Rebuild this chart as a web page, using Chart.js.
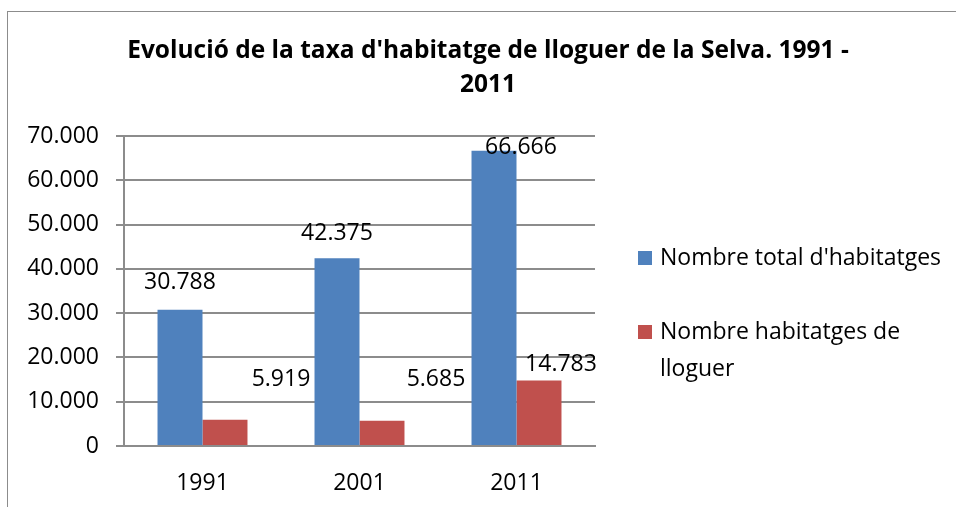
<!DOCTYPE html>
<html>
<head>
<meta charset="utf-8">
<script src="https://cdn.jsdelivr.net/npm/chart.js@4"></script>
<style>
  html, body { margin: 0; padding: 0; background: #fff; }
  #wrap { position: absolute; left: 0; top: 0; width: 956px; height: 507px; }
  #frame { position: absolute; left: 7px; top: 11px; width: 960px; height: 520px;
           border-left: 1px solid #8c8c8c; border-top: 1px solid #8c8c8c; }
  canvas { position: absolute; left: 0; top: 0; }
</style>
</head>
<body>
<div id="wrap">
  <div id="frame"></div>
  <canvas id="myChart" width="956" height="507"></canvas>
</div>
<script>
var years = ['1991', '2001', '2011'];
var totalHabitatges = [30788, 42375, 66666];
var habitatgesLloguer = [5919, 5685, 14783];
var yTicks = [0, 10000, 20000, 30000, 40000, 50000, 60000, 70000];
var titleLines = ["Evolució de la taxa d'habitatge de lloguer de la Selva. 1991 -", '2011'];

var FONT = '"Open Sans", sans-serif';

function fmt(v) {
    // thousands with a dot, like the original
    return v.toString().replace(/\B(?=(\d{3})+(?!\d))/g, '.');
}

// title centred over the whole frame, not only the plot
var titlePlugin = {
    id: 'frameTitle',
    afterDraw: function (chart, args, opts) {
        var ctx = chart.ctx;
        ctx.save();
        ctx.font = 'bold 24.5px ' + FONT;
        ctx.fillStyle = '#000';
        ctx.textAlign = 'center';
        ctx.textBaseline = 'middle';
        titleLines.forEach(function (line, i) {
            ctx.fillText(line, opts.x, opts.y + i * 34);
        });
        ctx.restore();
    }
};

// labels were moved by hand in the original, so each one has its own offset
var labelPlugin = {
    id: 'barLabels',
    afterDatasetsDraw: function (chart, args, opts) {
        var ctx = chart.ctx;
        ctx.save();
        ctx.font = '23px ' + FONT;
        ctx.fillStyle = '#000';
        ctx.textAlign = 'center';
        ctx.textBaseline = 'middle';
        chart.data.datasets.forEach(function (ds, i) {
            var meta = chart.getDatasetMeta(i);
            meta.data.forEach(function (bar, j) {
                var off = opts.offsets[i][j];
                ctx.fillText(fmt(ds.data[j]), bar.x + off[0], bar.y - off[1]);
            });
        });
        ctx.restore();
    }
};

var legendPlugin = {
    id: 'sideLegend',
    afterDraw: function (chart, args, opts) {
        var ctx = chart.ctx;
        ctx.save();
        ctx.font = '23px ' + FONT;
        ctx.textBaseline = 'middle';
        opts.items.forEach(function (item, i) {
            var ds = chart.data.datasets[i];
            ctx.fillStyle = ds.backgroundColor;
            ctx.fillRect(opts.x, item.y - 7, 14, 14);
            ctx.fillStyle = '#000';
            item.lines.forEach(function (line, k) {
                ctx.fillText(line, opts.x + 22, item.y + k * 37);
            });
        });
        ctx.restore();
    }
};

var ctx = document.getElementById('myChart').getContext('2d');
var chart = new Chart(ctx, {
    type: 'bar',
    data: {
        labels: years,
        datasets: [{
            label: "Nombre total d'habitatges",
            backgroundColor: '#4F81BD',
            data: totalHabitatges
        }, {
            label: 'Nombre habitatges de lloguer',
            backgroundColor: '#C0504D',
            data: habitatgesLloguer
        }]
    },
    plugins: [titlePlugin, labelPlugin, legendPlugin],
    options: {
        responsive: false,
        animation: false,
        layout: { padding: { left: 0, right: 361, top: 136, bottom: 0 } },
        datasets: {
            bar: { categoryPercentage: 0.573, barPercentage: 1.0 }
        },
        scales: {
            x: {
                grid: { display: false },
                border: { display: true, color: '#8c8c8c', width: 2 },
                ticks: { color: '#000', font: { family: FONT, size: 23 }, padding: 16 },
                afterFit: function (s) { s.height = 61; }
            },
            y: {
                min: 0,
                max: 70000,
                afterBuildTicks: function (s) {
                    s.ticks = yTicks.map(function (v) { return { value: v }; });
                },
                grid: { color: '#8c8c8c', lineWidth: 2, tickLength: 8 },
                border: { display: true, color: '#8c8c8c', width: 2 },
                ticks: {
                    color: '#000',
                    padding: 17,
                    font: { family: FONT, size: 23 },
                    callback: function (v) { return fmt(v); }
                },
                afterFit: function (s) { s.width = 124; }
            }
        },
        plugins: {
            legend: { display: false },
            tooltip: { enabled: false },
            title: { display: false },
            frameTitle: { x: 488, y: 51 },
            barLabels: {
                offsets: [
                    [[0, 27], [0, 25], [27, 3]],
                    [[56, 40], [54, 41], [22, 16]]
                ]
            },
            sideLegend: {
                x: 638,
                items: [
                    { y: 258, lines: ["Nombre total d'habitatges"] },
                    { y: 332, lines: ['Nombre habitatges de', 'lloguer'] }
                ]
            }
        }
    }
});
</script>
</body>
</html>
